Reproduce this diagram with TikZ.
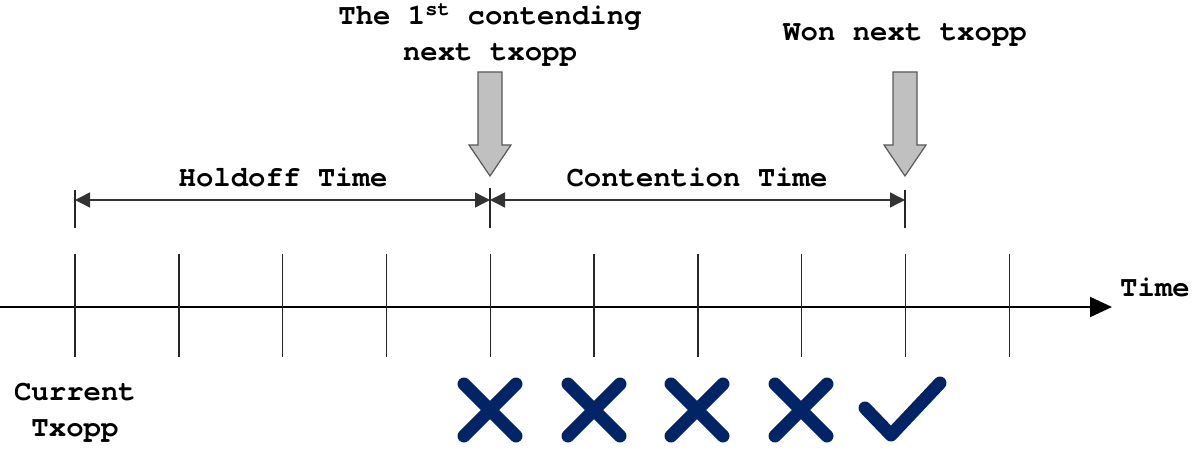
\documentclass[tikz,border=0pt]{standalone}
\usepackage{fontspec}
\setmonofont{TeX Gyre Cursor}[Ligatures={NoCommon,NoRequired}]
\usetikzlibrary{arrows.meta}
\definecolor{navy}{RGB}{0,36,102}
\definecolor{pgray}{RGB}{192,192,192}
\begin{document}
\begin{tikzpicture}[x=1pt,y=-1pt,
  lbl/.style={font=\fontsize{29}{36}\selectfont\ttfamily\bfseries, inner sep=0pt, align=center},
  tick/.style={line width=1.4pt, draw=black!85},
  dim/.style={line width=1.4pt, draw=black!80, {Triangle[length=15pt,width=15pt]}-{Triangle[length=15pt,width=15pt]}},
  pointer/.style={fill=pgray, draw=black!65, line width=1.2pt, line join=miter},
  okmark/.style={draw=navy, line width=13pt, line cap=round, line join=round}]
\useasboundingbox (0,0) rectangle (1203,457);
% axis
\coordinate (a0) at (0,307);
\coordinate (a1) at (1112,307);
\draw[line width=2pt, -{Triangle[length=22pt,width=20pt]}] (a0) -- (a1);
\node[lbl] (time) at (1155,287) {Time};
% ticks
\foreach \i in {0,...,9}{
  \coordinate (t\i) at ({75+103.8*\i},254);
  \coordinate (b\i) at ({75+103.8*\i},357);
  \draw[tick] (t\i) -- (b\i);
}
% dimension ticks
\coordinate (d0) at (75,190);   \coordinate (e0) at (75,228);
\coordinate (d1) at (490,188);  \coordinate (e1) at (490,228);
\coordinate (d2) at (905,190);  \coordinate (e2) at (905,228);
\draw[tick] (d0) -- (e0);
\draw[tick] (d1) -- (e1);
\draw[tick] (d2) -- (e2);
\coordinate (h0) at (75,200); \coordinate (h1) at (490,200); \coordinate (h2) at (905,200);
\draw[dim] (h0) -- (h1);
\draw[dim] (h1) -- (h2);
\node[lbl] (hold) at (283,177) {Holdoff Time};
\node[lbl] (cont) at (697,177) {Contention Time};
% pointers
\foreach \x in {490,905}{
  \draw[pointer] (\x-12,72) -- (\x+12,72) -- (\x+12,145) -- (\x+21,145) -- (\x,176) -- (\x-21,145) -- (\x-12,145) -- cycle;
}
\node[lbl] (first) at (490,35) {The 1\textsuperscript{st} contending\\next txopp};
\node[lbl] (won) at (905,35) {Won next txopp};
\node[lbl] (cur) at (75,413) {Current\\Txopp};
% marks
\foreach \x in {490,594,697,801}{
  \draw[okmark] (\x-26,384) -- (\x+26,436);
  \draw[okmark] (\x+26,384) -- (\x-26,436);
}
\draw[okmark] (865,408) -- (891,435) -- (940,383);
\end{tikzpicture}
\end{document}
